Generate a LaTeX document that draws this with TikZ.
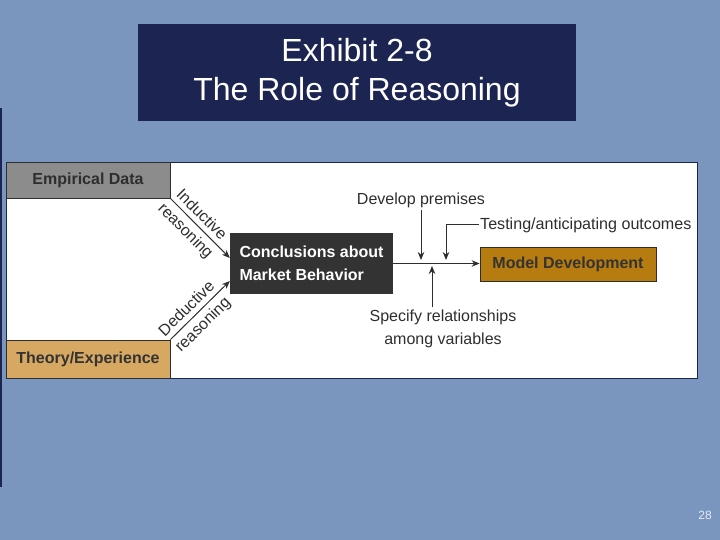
\documentclass[tikz,border=0pt]{standalone}
\usepackage{fontspec}
\setmainfont{Liberation Sans}
\usetikzlibrary{arrows.meta,positioning,calc}
\definecolor{SlideBlue}{HTML}{7A96BF}
\definecolor{TitleNavy}{HTML}{1C2452}
\definecolor{DataGray}{HTML}{8C8C8C}
\definecolor{TheoryTan}{HTML}{D6A862}
\definecolor{ModelGold}{HTML}{B77C10}
\definecolor{ConclDark}{HTML}{333333}
\definecolor{InkGray}{HTML}{2E2E2E}
\definecolor{PageWhite}{HTML}{E6ECF5}

\begin{document}
\begin{tikzpicture}[x=1pt,y=1pt,
  srcbox/.style={draw=InkGray,line width=0.8pt,minimum width=164pt,inner sep=0pt,
    font=\fontsize{16}{18}\selectfont\bfseries,text=InkGray},
  lbl/.style={font=\fontsize{16}{23}\selectfont,text=InkGray,inner sep=2pt,align=center},
  slant/.style={font=\fontsize{16}{18}\selectfont,text=InkGray,inner sep=5pt,sloped,pos=0.4},
  arr/.style={draw=InkGray,line width=1pt,-{Stealth[length=8pt,width=6.5pt]}}]
  \useasboundingbox (0,0) rectangle (720,540);
  \fill[SlideBlue] (0,0) rectangle (720,540);
  \draw[TitleNavy,line width=1.5pt] (1,432) -- (1,53);

  % title
  \node[fill=TitleNavy,text=white,minimum width=438pt,minimum height=97pt,inner sep=0pt,
    align=center,font=\fontsize{32}{39}\selectfont] (title) at (357,467.5)
    {Exhibit 2-8\\The Role of Reasoning};

  % panel and boxes
  \draw[fill=white,draw=TitleNavy,line width=0.8pt] (6,162) rectangle (697,378);
  \node[srcbox,fill=DataGray,minimum height=36pt] (emp) at (88,360) {Empirical Data};
  \node[srcbox,fill=TheoryTan,minimum height=38pt,text=ConclDark] (theory) at (88,181) {Theory/Experience};
  \node[fill=ConclDark,text=white,minimum width=163pt,minimum height=61pt,inner sep=0pt,
    align=left,font=\fontsize{16}{23}\selectfont\bfseries] (concl) at (311.5,276.5)
    {Conclusions about\\Market Behavior};
  \node[srcbox,fill=ModelGold,minimum width=176pt,minimum height=34pt,text=ConclDark] (model) at (568,276) {Model Development};

  % reasoning arrows
  \coordinate (indtip) at ($(concl.west)+(0,5.5)$);
  \coordinate (dedtip) at ($(concl.west)+(0,-17.5)$);
  \draw[arr] (emp.south east) -- node[slant,above] {Inductive} node[slant,below] {reasoning} (indtip);
  \draw[arr] (theory.north east) -- node[slant,above] {Deductive} node[slant,below] {reasoning} (dedtip);

  % main flow
  \draw[arr] (concl.east) -- (concl.east -| model.west);
  \node[lbl] (prem) at (421,340) {Develop premises};
  \node[lbl,anchor=west,inner sep=1pt,font=\fontsize{16.1}{20}\selectfont] (test) at (479,315) {Testing/anticipating outcomes};
  \node[lbl] (spec) at (443,211.5) {Specify relationships\\among variables};
  \coordinate (premtip) at (421,280);
  \coordinate (testtip) at (446,280);
  \coordinate (spectip) at (432,274);
  \draw[arr] (prem.south -| premtip) -- (premtip);
  \draw[arr] (test.west) -| (testtip);
  \draw[arr] (spec.north -| spectip) -- (spectip);

  \node[text=PageWhite,font=\fontsize{12}{14}\selectfont] (page) at (705,25) {28};
\end{tikzpicture}
\end{document}
